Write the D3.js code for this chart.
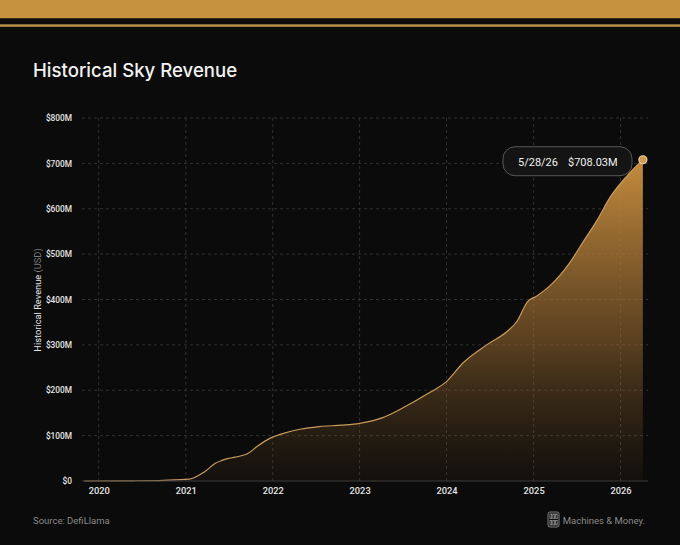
<!DOCTYPE html>
<html>
<head>
<meta charset="utf-8">
<script src="https://cdn.jsdelivr.net/npm/d3@7"></script>
<style>
  html, body { margin: 0; padding: 0; background: #0b0b0b; }
  svg { display: block; font-family: Roboto, "Noto Sans", sans-serif; }
</style>
</head>
<body>
<div id="chart"></div>
<script>
// revenue in $M
const dates = [
  "2019-11-01", "2020-06-01", "2020-10-01", "2021-01-15", "2021-03-20", "2021-05-05",
  "2021-06-05", "2021-09-20", "2021-10-27", "2021-12-20", "2022-02-15", "2022-04-25",
  "2022-07-15", "2022-10-20", "2023-01-01", "2023-04-05", "2023-07-08", "2023-10-22",
  "2024-01-01", "2024-03-10", "2024-06-18", "2024-09-10", "2024-10-22", "2024-12-06",
  "2025-01-15", "2025-03-10", "2025-06-03", "2025-07-28", "2025-09-25", "2025-11-18",
  "2026-01-26", "2026-04-05"
];
const revenue = [
  0, 0.5, 1.5, 4, 20, 39,
  46, 61, 76, 94, 105, 114,
  120, 123, 127, 139, 163, 195,
  219, 260, 300, 329, 351, 395,
  408, 430, 482, 527, 575, 625,
  671, 708.03
];
const yearTicks = [2020, 2021, 2022, 2023, 2024, 2025, 2026];
const yTicks = [0, 100, 200, 300, 400, 500, 600, 700, 800];
const lastLabelDate = "5/28/26";
const lastLabelValue = "$708.03M";

const width = 680, height = 545;
const parse = d3.timeParse("%Y-%m-%d");
const data = dates.map((d, i) => ({ date: parse(d), value: revenue[i] }));

const x = d3.scaleTime()
  .domain([new Date(2020, 0, 1), new Date(2026, 0, 1)])
  .range([98.7, 620.5]);
const y = d3.scaleLinear().domain([0, 800]).range([481, 118]);

const svg = d3.select("#chart").append("svg")
  .attr("width", width).attr("height", height);

svg.append("rect").attr("width", width).attr("height", height).attr("fill", "#0b0b0b");

// top band
svg.append("rect").attr("x", 0).attr("y", 0).attr("width", width).attr("height", 18.5).attr("fill", "#c7923f");
svg.append("rect").attr("x", 0).attr("y", 18.5).attr("width", width).attr("height", 5.8).attr("fill", "#0e0a08");
svg.append("rect").attr("x", 0).attr("y", 24.3).attr("width", width).attr("height", 2.5).attr("fill", "#b98f4c");

svg.append("text")
  .attr("x", 33).attr("y", 77)
  .attr("fill", "#f2f2f2")
  .attr("font-family", "Inter, sans-serif")
  .attr("font-size", 18.6)
  .attr("font-weight", 500)
  .text("Historical Sky Revenue");

const defs = svg.append("defs");
const grad = defs.append("linearGradient")
  .attr("id", "fillGrad")
  .attr("gradientUnits", "userSpaceOnUse")
  .attr("x1", 0).attr("x2", 0)
  .attr("y1", y(708)).attr("y2", y(0));
grad.append("stop").attr("offset", 0).attr("stop-color", "#c48c3e").attr("stop-opacity", 1);
grad.append("stop").attr("offset", 0.55).attr("stop-color", "#a06f32").attr("stop-opacity", 0.55);
grad.append("stop").attr("offset", 1).attr("stop-color", "#6b4a22").attr("stop-opacity", 0.08);

// grid
const gridX0 = 82, gridX1 = 648;
svg.append("g").selectAll("line").data(yTicks.slice(1)).join("line")
  .attr("x1", gridX0).attr("x2", gridX1)
  .attr("y1", d => y(d)).attr("y2", d => y(d))
  .attr("stroke", "#3a3a3a").attr("stroke-width", 0.8)
  .attr("stroke-dasharray", "3,3");

svg.append("g").selectAll("line").data(yearTicks).join("line")
  .attr("x1", d => x(new Date(d, 0, 1))).attr("x2", d => x(new Date(d, 0, 1)))
  .attr("y1", y(800)).attr("y2", y(0))
  .attr("stroke", "#3a3a3a").attr("stroke-width", 0.8)
  .attr("stroke-dasharray", "3,3");

// area + line
const area = d3.area()
  .x(d => x(d.date)).y0(y(0)).y1(d => y(d.value))
  .curve(d3.curveMonotoneX);
const line = d3.line()
  .x(d => x(d.date)).y(d => y(d.value))
  .curve(d3.curveMonotoneX);

svg.append("path").datum(data).attr("d", area).attr("fill", "url(#fillGrad)");
svg.append("path").datum(data).attr("d", line)
  .attr("fill", "none").attr("stroke", "#c99a5c").attr("stroke-width", 1.2);

// baseline
svg.append("line")
  .attr("x1", gridX0).attr("x2", gridX1)
  .attr("y1", y(0)).attr("y2", y(0))
  .attr("stroke", "#3c3c3c").attr("stroke-width", 1);

// y axis
const yAxis = d3.axisLeft(y)
  .tickValues(yTicks)
  .tickSize(0)
  .tickFormat(d => d === 0 ? "$0" : `$${d}M`);
svg.append("g")
  .attr("transform", "translate(75,0)")
  .call(yAxis)
  .call(g => g.select(".domain").remove())
  .call(g => g.selectAll("text")
    .attr("fill", "#e6e6e6").attr("font-size", 8.3)
    .attr("font-weight", 500)
    .attr("font-family", "Roboto, sans-serif"));

// x axis
const xAxis = d3.axisBottom(x)
  .tickValues(yearTicks.map(d => new Date(d, 0, 1)))
  .tickSize(0)
  .tickFormat(d3.timeFormat("%Y"));
svg.append("g")
  .attr("transform", `translate(0,${y(0) + 3})`)
  .call(xAxis)
  .call(g => g.select(".domain").remove())
  .call(g => g.selectAll("text")
    .attr("fill", "#e6e6e6").attr("font-size", 9.3)
    .attr("font-weight", 500)
    .attr("font-family", "Roboto, sans-serif"));

// y title
const yTitle = svg.append("text")
  .attr("transform", "translate(41,300) rotate(-90)")
  .attr("text-anchor", "middle")
  .attr("font-size", 9.3)
  .attr("fill", "#e6e6e6");
yTitle.append("tspan").text("Historical Revenue ");
yTitle.append("tspan").attr("fill", "#7a7a7a").text("(USD)");

// end point + label
const last = data[data.length - 1];
svg.append("circle")
  .attr("cx", x(last.date)).attr("cy", y(last.value)).attr("r", 4)
  .attr("fill", "#cf9a52").attr("stroke", "#f0d3a0").attr("stroke-width", 1.2);

const bx = 503, bw = 129, bh = 29, by = y(last.value) - 13;
svg.append("rect")
  .attr("x", bx).attr("y", by).attr("width", bw).attr("height", bh)
  .attr("rx", 12).attr("fill", "#141414")
  .attr("stroke", "#585858").attr("stroke-width", 1);
svg.append("text")
  .attr("x", bx + 15).attr("y", by + 19)
  .attr("fill", "#f2f2f2").attr("font-size", 11)
  .text(lastLabelDate);
svg.append("text")
  .attr("x", bx + 65).attr("y", by + 19)
  .attr("fill", "#f2f2f2").attr("font-size", 11)
  .text(lastLabelValue);

// footer
svg.append("text")
  .attr("x", 33).attr("y", 524)
  .attr("fill", "#8a8a8a").attr("font-size", 9.5)
  .text("Source: DefiLlama");

const logo = svg.append("g").attr("transform", "translate(548,512)")
  .attr("stroke", "#8a8a8a").attr("fill", "none").attr("stroke-width", 0.9);
logo.append("rect").attr("x", 0).attr("y", 0).attr("width", 11).attr("height", 15).attr("rx", 2);
[[2, 2], [4.8, 2], [7.6, 2], [2, 8.5], [4.8, 8.5], [7.6, 8.5]].forEach(([lx, ly]) => {
  logo.append("rect").attr("x", lx).attr("y", ly).attr("width", 1.6).attr("height", 4.5);
});

svg.append("text")
  .attr("x", 645).attr("y", 524)
  .attr("text-anchor", "end")
  .attr("fill", "#8a8a8a").attr("font-size", 9.5)
  .text("Machines & Money.");
</script>
</body>
</html>
